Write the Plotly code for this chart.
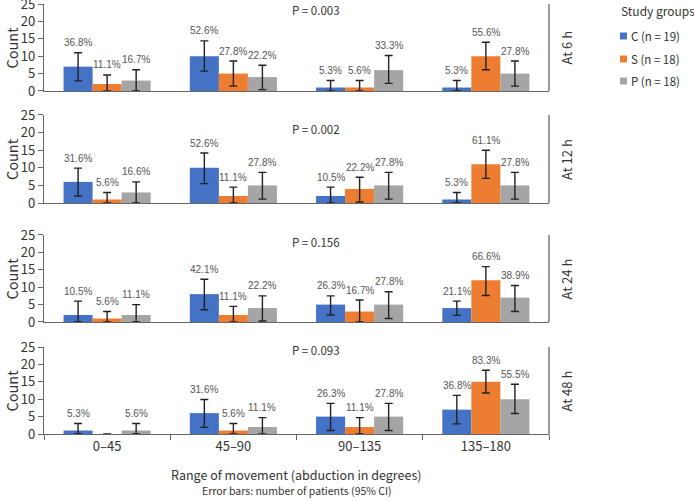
import plotly.graph_objects as go
from plotly.subplots import make_subplots

# ---------------- data ----------------
categories = ["0–45", "45–90", "90–135", "135–180"]
timepoints = ["At 6 h", "At 12 h", "At 24 h", "At 48 h"]
p_values = ["P = 0.003", "P = 0.002", "P = 0.156", "P = 0.093"]
group_names = ["C (n = 19)", "S (n = 18)", "P (n = 18)"]

# counts per panel (rows: 6 h, 12 h, 24 h, 48 h)
c_counts = [[7, 10, 1, 1], [6, 10, 2, 1], [2, 8, 5, 4], [1, 6, 5, 7]]
s_counts = [[2, 5, 1, 10], [1, 2, 4, 11], [1, 2, 3, 12], [0, 1, 2, 15]]
p_counts = [[3, 4, 6, 5], [3, 5, 5, 5], [2, 4, 5, 7], [1, 2, 5, 10]]

c_pct = [["36.8%", "52.6%", "5.3%", "5.3%"], ["31.6%", "52.6%", "10.5%", "5.3%"],
         ["10.5%", "42.1%", "26.3%", "21.1%"], ["5.3%", "31.6%", "26.3%", "36.8%"]]
s_pct = [["11.1%", "27.8%", "5.6%", "55.6%"], ["5.6%", "11.1%", "22.2%", "61.1%"],
         ["5.6%", "11.1%", "16.7%", "66.6%"], ["", "5.6%", "11.1%", "83.3%"]]
p_pct = [["16.7%", "22.2%", "33.3%", "27.8%"], ["16.6%", "27.8%", "27.8%", "27.8%"],
         ["11.1%", "22.2%", "27.8%", "38.9%"], ["5.6%", "11.1%", "27.8%", "55.5%"]]

# 95% CI upper / lower bounds
c_hi = [[11.0, 14.4, 3.0, 3.0], [9.9, 14.2, 4.5, 3.0], [6.0, 12.3, 7.5, 6.0], [3.0, 9.9, 8.8, 11.1]]
c_lo = [[2.9, 5.7, 0, 0], [2.0, 5.5, 0, 0], [0, 3.5, 2.0, 1.9], [0, 1.9, 1.0, 2.9]]
s_hi = [[4.6, 8.6, 3.0, 14.0], [3.0, 4.5, 7.3, 15.0], [3.0, 4.5, 6.3, 15.9], [0, 3.0, 4.7, 18.3]]
s_lo = [[0, 1.4, 0, 6.1], [0, 0, 0.3, 7.0], [0, 0, 0, 7.6], [0, 0, 0, 11.8]]
p_hi = [[6.1, 7.4, 10.2, 8.6], [6.0, 8.7, 8.7, 8.7], [5.0, 7.5, 8.7, 10.5], [3.0, 4.7, 8.8, 14.3]]
p_lo = [[0, 0.4, 2.2, 1.4], [0, 1.1, 1.1, 1.1], [0, 0.3, 1.0, 3.0], [0, 0, 1.0, 5.9]]

# ---------------- style ----------------
colors = ["#4472C4", "#ED7D31", "#A5A5A5"]
FONT = "Noto Sans CJK KR, Noto Sans, sans-serif"
LBLFONT = "Liberation Sans, Arial, sans-serif"
TXT = "#333333"
AXC = "#666666"
BARGAP = 0.31
BW = (1 - BARGAP) / 3
domains = [[0.7977, 1.0], [0.5372, 0.7419], [0.2605, 0.4628], [0.0, 0.2023]]
p_label_y = [23.2, 21.0, 23.0, 24.0]

fig = make_subplots(rows=4, cols=1, shared_xaxes=False)

series = [
    (c_counts, c_hi, c_lo, c_pct),
    (s_counts, s_hi, s_lo, s_pct),
    (p_counts, p_hi, p_lo, p_pct),
]

annotations = []
shapes = []
for r in range(4):
    row = r + 1
    sfx = "" if r == 0 else str(row)
    for g, (cnt, hi, lo, pct) in enumerate(series):
        vals = cnt[r]
        plus, minus = [], []
        for v, h, l in zip(vals, hi[r], lo[r]):
            if h == v and l == v:
                plus.append(None)
                minus.append(None)
            else:
                plus.append(h - v)
                minus.append(v - l)
        fig.add_trace(go.Bar(
            x=categories, y=vals, name=group_names[g],
            marker=dict(color=colors[g], line=dict(width=0)),
            error_y=dict(type="data", symmetric=False, array=plus, arrayminus=minus,
                         color="#222222", thickness=1.4, width=4),
            showlegend=False, hoverinfo="skip",
        ), row=row, col=1)
        for i, t in enumerate(pct[r]):
            if not t:
                continue
            annotations.append(dict(
                x=i + (g - 1) * BW, y=hi[r][i], xref="x" + sfx, yref="y" + sfx,
                text=t, showarrow=False, yanchor="middle", yshift=10,
                font=dict(family=LBLFONT, size=10, color="#555555"),
            ))
    # P-value
    annotations.append(dict(
        x=0.539, y=p_label_y[r], xref="paper", yref="y" + sfx, text=p_values[r],
        showarrow=False, xanchor="center", yanchor="middle",
        font=dict(family=FONT, size=11.5, color=TXT),
    ))
    # right-side timepoint label
    annotations.append(dict(
        x=1.0356, y=0.5, xref="paper", yref="y" + sfx + " domain", text=timepoints[r],
        showarrow=False, textangle=-90, xanchor="center", yanchor="middle",
        font=dict(family=FONT, size=13, color=TXT),
    ))
    # y title
    annotations.append(dict(
        x=-0.0634, y=0.5, xref="paper", yref="y" + sfx + " domain", text="Count",
        showarrow=False, textangle=-90, xanchor="center", yanchor="middle",
        font=dict(family=FONT, size=14.5, color=TXT),
    ))
    # right border line
    shapes.append(dict(type="line", xref="x" + sfx + " domain", yref="y" + sfx + " domain",
                       x0=1, x1=1, y0=0, y1=1, line=dict(color=AXC, width=1.3)))

    is_bottom = (r == 3)
    fig.update_xaxes(
        row=row, col=1, domain=[0, 1], type="category",
        categoryorder="array", categoryarray=categories,
        range=[-0.5, 3.5], automargin=False,
        showline=True, linecolor=AXC, linewidth=1.3,
        showgrid=False, zeroline=False,
        showticklabels=is_bottom,
        ticks="outside" if is_bottom else "", tickson="boundaries",
        ticklen=5, tickcolor=AXC, tickwidth=1.3,
        tickfont=dict(family=FONT, size=13, color=TXT),
    )
    fig.update_yaxes(
        row=row, col=1, domain=domains[r], range=[0, 25], dtick=5, tick0=0,
        automargin=False, ticklabeloverflow="allow",
        showline=True, linecolor=AXC, linewidth=1.3,
        showgrid=False, zeroline=False,
        ticks="outside", ticklen=5, tickcolor=AXC, tickwidth=1.3,
        tickfont=dict(family=FONT, size=13, color=TXT),
    )

# x-axis titles
annotations.append(dict(
    x=0.5, y=-0.095, xref="paper", yref="paper", showarrow=False,
    text="Range of movement (abduction in degrees)", xanchor="center", yanchor="middle",
    font=dict(family=FONT, size=12.5, color=TXT),
))
annotations.append(dict(
    x=0.5, y=-0.132, xref="paper", yref="paper", showarrow=False,
    text="Error bars: number of patients (95% CI)", xanchor="center", yanchor="middle",
    font=dict(family=FONT, size=10.5, color=TXT),
))

# manual legend
annotations.append(dict(
    x=1.1386, y=0.986, xref="paper", yref="paper", showarrow=False,
    text="Study groups", xanchor="left", yanchor="middle",
    font=dict(family=FONT, size=12, color=TXT),
))
leg_y = [0.9256, 0.8721, 0.8209]
for g in range(3):
    shapes.append(dict(type="rect", xref="paper", yref="paper",
                       x0=1.1406, x1=1.1545, y0=leg_y[g] - 0.0081, y1=leg_y[g] + 0.0081,
                       fillcolor=colors[g], line=dict(width=0)))
    annotations.append(dict(
        x=1.1584, y=leg_y[g], xref="paper", yref="paper", showarrow=False,
        text=group_names[g], xanchor="left", yanchor="middle",
        font=dict(family=FONT, size=11.5, color=TXT),
    ))

fig.update_layout(
    width=694, height=501,
    margin=dict(l=44, r=145, t=4, b=67, autoexpand=False),
    barmode="group", bargap=BARGAP, bargroupgap=0,
    plot_bgcolor="white", paper_bgcolor="white",
    showlegend=False,
    annotations=annotations, shapes=shapes,
    font=dict(family=FONT, color=TXT),
)

fig.write_html(
    "out.html",
    config={"displayModeBar": False},
    post_script="document.body.style.margin='0';document.body.style.overflow='hidden';",
)
